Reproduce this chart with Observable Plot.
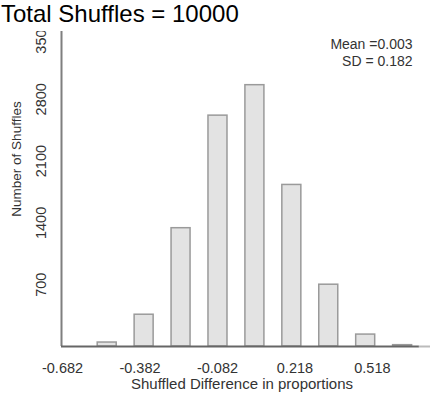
<!DOCTYPE html>
<html>
<head>
<meta charset="utf-8">
<script src="https://cdn.jsdelivr.net/npm/d3@7"></script>
<script src="https://cdn.jsdelivr.net/npm/@observablehq/plot@0.6"></script>
<style>
  html, body { margin: 0; padding: 0; background: #fff; }
  #title { font-family: "Liberation Sans", Arial, sans-serif; font-size: 24px; line-height: 27px; height: 31px; color: #000; padding-left: 1px; white-space: nowrap; }
  svg { overflow: hidden; }
</style>
</head>
<body>
<div id="title"></div>
<div id="chart"></div>
<script>
const titleText = "Total Shuffles = 10000";
const binCenters = [-0.509, -0.366, -0.223, -0.080, 0.063, 0.206, 0.349, 0.492, 0.635];
const counts = [45, 360, 1340, 2615, 2960, 1830, 700, 135, 15];
const xTicks = [-0.682, -0.382, -0.082, 0.218, 0.518];
const yTicks = [700, 1400, 2100, 2800, 3500];
const xLabel = "Shuffled Difference in proportions";
const yLabel = "Number of Shuffles";
const statsLines = ["Mean =0.003", "SD = 0.182"];

document.getElementById("title").textContent = titleText;

const bars = binCenters.map((c, i) => ({center: c, count: counts[i]}));
const hw = 0.0368;

const chart = Plot.plot({
  width: 432,
  height: 364,
  marginTop: 0,
  marginLeft: 61,
  marginRight: 2,
  marginBottom: 49,
  style: {fontFamily: "'Liberation Sans', Arial, sans-serif", fontSize: "14px", color: "#333", background: "#fff"},
  x: {domain: [-0.686, 0.743], axis: null},
  y: {domain: [0, 3568], axis: null},
  marks: [
    Plot.rectY(bars, {x1: d => d.center - hw, x2: d => d.center + hw, y1: 0, y2: "count", fill: "#e3e3e3", stroke: "#9a9a9a", strokeWidth: 1.5}),
    Plot.ruleX([-0.686], {stroke: "#7f7f7f", strokeWidth: 2}),
    Plot.ruleY([0], {x1: -0.686, x2: 0.70, stroke: "#666", strokeWidth: 2}),
    Plot.ruleY([0], {x1: 0.70, x2: 0.743, stroke: "#bbb", strokeWidth: 2}),
    Plot.axisX({ticks: xTicks, tickSize: 0, tickPadding: 16, tickFormat: d => d.toFixed(3), label: null, fontSize: 14.5, fill: "#333"}),
    Plot.axisY({ticks: yTicks, tickSize: 0, tickPadding: 16, tickRotate: -90, tickFormat: d => String(d), label: null, fontSize: 14.5, fill: "#333"}),
    Plot.text([xLabel], {frameAnchor: "bottom", textAnchor: "middle", lineAnchor: "middle", dx: -4, dy: 38, fontSize: 15, fill: "#333"}),
    Plot.text([yLabel], {frameAnchor: "left", textAnchor: "middle", lineAnchor: "middle", rotate: -90, dx: -45, dy: -30, fontSize: 13.5, fill: "#333"}),
    Plot.text([statsLines.join("\n")], {frameAnchor: "top-right", textAnchor: "end", lineAnchor: "top", dx: -18, dy: 6, lineHeight: 1.18, fontSize: 14, fill: "#333"})
  ]
});
document.getElementById("chart").appendChild(chart);
</script>
</body>
</html>
